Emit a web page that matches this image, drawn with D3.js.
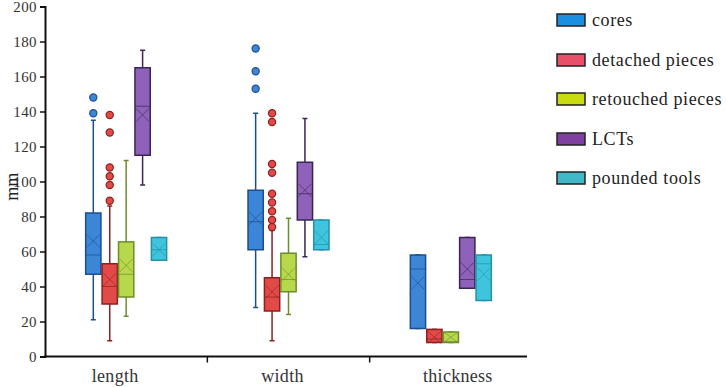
<!DOCTYPE html>
<html>
<head>
<meta charset="utf-8">
<script src="https://cdn.jsdelivr.net/npm/d3@7"></script>
<style>
  body { margin: 0; background: #fff; }
</style>
</head>
<body>
<div id="chart"></div>
<script>
// Categories and series
const categories = ["length", "width", "thickness"];
const series = ["cores", "detached pieces", "retouched pieces", "LCTs", "pounded tools"];

// Box statistics, rows = series, columns = categories (mm)
const whiskerLow = [[21, 28, 16], [9, 9, 8], [23, 24, 8], [98, 57, 39], [55, 61, 32]];
const q1 = [[47, 61, 16], [30, 26, 8], [34, 37, 8], [115, 78, 39], [55, 61, 32]];
const median = [[58, 77, 50], [40, 34, 10], [47, 44, 8.5], [143, 93, 44], [61, 64, 53]];
const q3 = [[82, 95, 58], [53, 45, 15.5], [65.5, 59, 14], [165, 111, 68], [68, 78, 58]];
const whiskerHigh = [[135, 139, 58], [86, 72, 15.5], [112, 79, 14], [175, 136, 68], [68, 78, 58]];
const mean = [[66, 79, 42], [44, 37, 11], [52, 47, 11], [138, 95, 50], [61, 68, 47]];
const outliers = [
  [[139, 148], [153, 163, 176], []],
  [[89, 98, 103, 108, 128, 138], [74, 78, 83, 88, 93, 105, 110, 134, 139], []],
  [[], [], []],
  [[], [], []],
  [[], [], []]
];
const yTicks = [0, 20, 40, 60, 80, 100, 120, 140, 160, 180, 200];

// Colours
const fills = ["#3b86d6", "#e24a48", "#b6d84a", "#8e62b8", "#3ec4dc"];
const strokes = ["#1f4e8c", "#8c1f1f", "#6e8c2c", "#3d2456", "#2590a8"];
const legendFills = ["#1a8ee0", "#e8506a", "#c8dc10", "#8040a0", "#40b8c8"];

const serif = "'Liberation Serif'";
const width = 726, height = 387;
const svg = d3.select("#chart").append("svg")
  .attr("width", width)
  .attr("height", height);

const y = d3.scaleLinear().domain([0, 200]).range([356.5, 6.5]);
const x = d3.scaleBand().domain(categories).range([45, 532]);
const inner = d3.scaleBand().domain(series).range([-40.5, 40.5]).paddingInner(0.07);
const bw = inner.bandwidth();

// Y axis
const yAxis = svg.append("g")
  .attr("transform", "translate(45,0)")
  .call(d3.axisLeft(y).tickValues(yTicks).tickSize(5).tickPadding(3));
yAxis.select(".domain").attr("stroke", "#111").attr("stroke-width", 2);
yAxis.selectAll(".tick line").attr("stroke", "#111").attr("stroke-width", 1.5);
yAxis.selectAll(".tick text")
  .style("font-family", serif)
  .style("font-size", "15px")
  .style("letter-spacing", "0.4px")
  .style("fill", "#333");

// X axis
svg.append("line")
  .attr("x1", 44).attr("x2", 527)
  .attr("y1", y(0)).attr("y2", y(0))
  .attr("stroke", "#111").attr("stroke-width", 2);
const xAxis = svg.append("g")
  .attr("transform", `translate(0,${y(0)})`)
  .call(d3.axisBottom(x).tickSize(0).tickPadding(13));
xAxis.select(".domain").remove();
xAxis.selectAll(".tick text")
  .style("font-family", serif)
  .style("font-size", "18px")
  .style("letter-spacing", "0.3px")
  .style("fill", "#333")
  .attr("dx", (d, i) => [-11, -6, 7][i]);
svg.selectAll(".bound")
  .data(categories.slice(1))
  .enter().append("line")
  .attr("x1", d => x(d)).attr("x2", d => x(d))
  .attr("y1", y(0)).attr("y2", y(0) + 6)
  .attr("stroke", "#111").attr("stroke-width", 1.5);

// Y label
svg.append("text")
  .attr("transform", `translate(18,${y(97)}) rotate(-90)`)
  .attr("text-anchor", "middle")
  .style("font-family", serif)
  .style("font-size", "18px")
  .style("fill", "#222")
  .text("mm");

// Boxes
series.forEach((s, si) => {
  const g = svg.append("g");
  categories.forEach((c, ci) => {
    const cx = x(c) + x.bandwidth() / 2 + inner(s) + bw / 2;
    const x0 = cx - bw / 2;
    // whisker
    g.append("line")
      .attr("x1", cx).attr("x2", cx)
      .attr("y1", y(whiskerLow[si][ci])).attr("y2", y(whiskerHigh[si][ci]))
      .attr("stroke", strokes[si]).attr("stroke-width", 1.5);
    [whiskerLow[si][ci], whiskerHigh[si][ci]].forEach(v => {
      g.append("line")
        .attr("x1", cx - 2.5).attr("x2", cx + 2.5)
        .attr("y1", y(v)).attr("y2", y(v))
        .attr("stroke", strokes[si]).attr("stroke-width", 1.5);
    });
    // box
    g.append("rect")
      .attr("x", x0).attr("width", bw)
      .attr("y", y(q3[si][ci]))
      .attr("height", y(q1[si][ci]) - y(q3[si][ci]))
      .attr("fill", fills[si])
      .attr("stroke", strokes[si]).attr("stroke-width", 1.5);
    // median
    g.append("line")
      .attr("x1", x0).attr("x2", x0 + bw)
      .attr("y1", y(median[si][ci])).attr("y2", y(median[si][ci]))
      .attr("stroke", strokes[si]).attr("stroke-opacity", 0.7).attr("stroke-width", 1);
    // mean marker
    const my = y(mean[si][ci]);
    const h = Math.min(bw / 2 - 1, 6.5);
    const mh = Math.min(h, (y(q1[si][ci]) - y(q3[si][ci])) / 2 - 0.5);
    g.append("path")
      .attr("d", `M${cx - h},${my - mh}L${cx + h},${my + mh}M${cx - h},${my + mh}L${cx + h},${my - mh}`)
      .attr("stroke", strokes[si]).attr("stroke-opacity", 0.6).attr("stroke-width", 1)
      .attr("fill", "none");
    // outliers
    g.selectAll(null)
      .data(outliers[si][ci])
      .enter().append("circle")
      .attr("cx", cx).attr("cy", d => y(d))
      .attr("r", 3.6)
      .attr("fill", fills[si])
      .attr("stroke", strokes[si]).attr("stroke-width", 1.2);
  });
});

// Legend
const legend = svg.append("g").attr("transform", "translate(557,0)");
const rowY = [20, 60, 99, 139, 178];
series.forEach((s, i) => {
  legend.append("rect")
    .attr("x", 0).attr("y", rowY[i] - 6)
    .attr("width", 28).attr("height", 12)
    .attr("fill", legendFills[i])
    .attr("stroke", "#222").attr("stroke-width", 1.5);
  legend.append("text")
    .attr("x", 35).attr("y", rowY[i])
    .attr("dy", "0.35em")
    .style("font-family", serif)
    .style("font-size", "18px")
    .style("letter-spacing", "0.6px")
    .style("fill", "#222")
    .text(s);
});
</script>
</body>
</html>
